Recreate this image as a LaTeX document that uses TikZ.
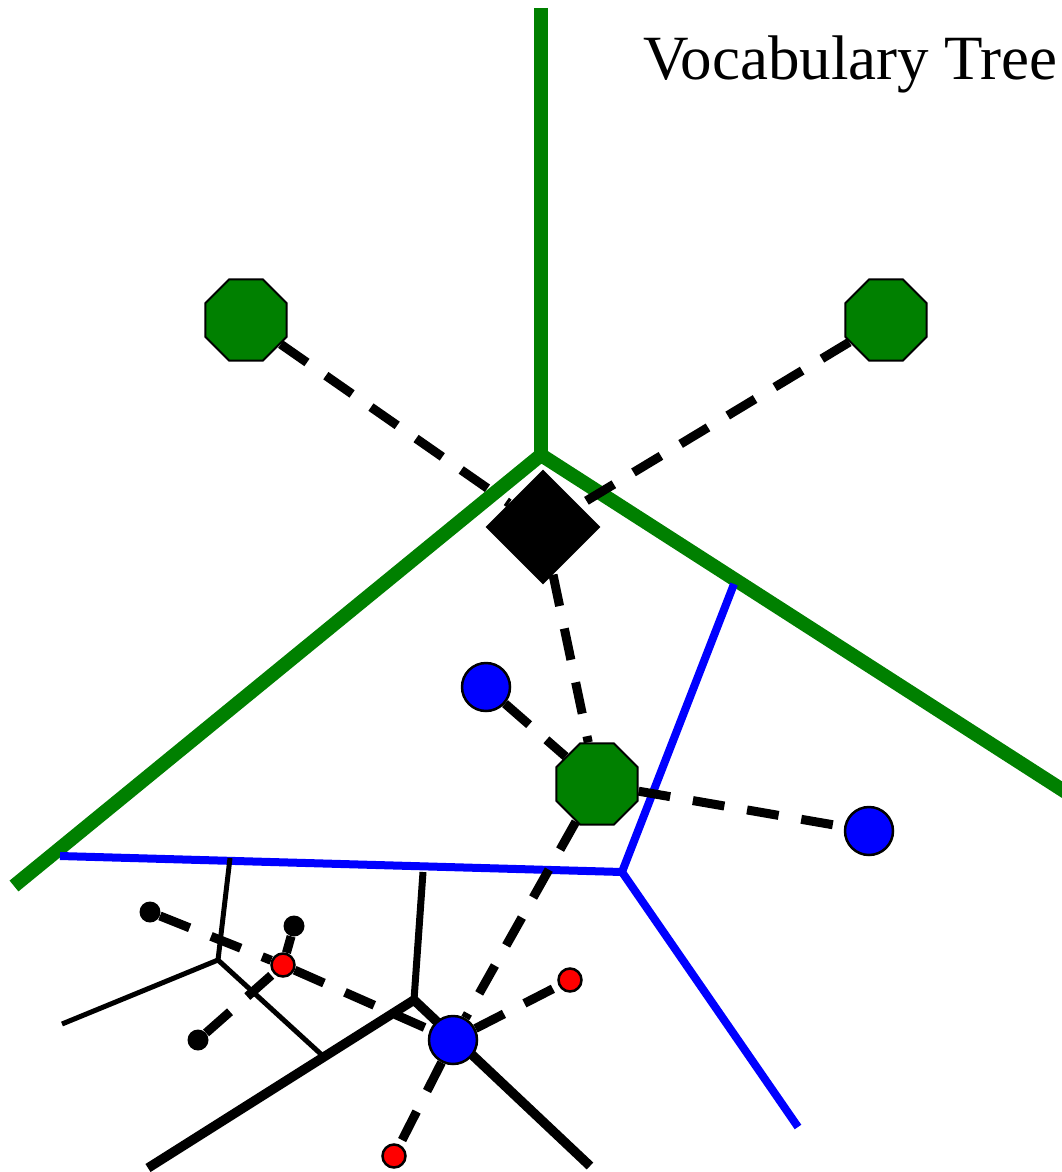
\documentclass[tikz,border=0pt]{standalone}
\usepackage{fontspec}
\setmainfont{Liberation Serif}
\usetikzlibrary{shapes.geometric}
\definecolor{vtgreen}{RGB}{0,128,0}
\definecolor{vtblue}{RGB}{0,0,255}
\definecolor{vtred}{RGB}{255,0,0}
\pgfdeclarelayer{bg}
\pgfsetlayers{bg,main}
\tikzset{
  octa/.style={regular polygon, regular polygon sides=8, minimum size=88pt, inner sep=0pt, fill=vtgreen, draw=black, line width=2pt},
  bigdot/.style={circle, minimum size=48pt, inner sep=0pt, fill=vtblue, draw=black, line width=2.5pt},
  reddot/.style={circle, minimum size=23pt, inner sep=0pt, fill=vtred, draw=black, line width=2.5pt},
  blackdot/.style={circle, minimum size=21pt, inner sep=0pt, fill=black},
  greenline/.style={draw=vtgreen, line width=14pt},
  blueline/.style={draw=vtblue, line width=8pt},
  dashlink/.style={draw=black, line width=9pt, dash pattern=on 32pt off 23pt},
}
\begin{document}
\begin{tikzpicture}[x=1pt,y=-1pt]
\useasboundingbox (0,0) rectangle (1062,1172);
\clip (0,0) rectangle (1062,1172);
% nodes
\node[octa] (oL) at (246,320) {};
\node[octa] (oR) at (886,320) {};
\node[octa] (oC) at (597,784) {};
\node[diamond, fill=black, minimum width=115pt, minimum height=115pt, inner sep=0pt] (dia) at (543,527) {};
\node[bigdot] (b1) at (486,687) {};
\node[bigdot] (b2) at (869,831) {};
\node[bigdot] (b3) at (453,1040) {};
\node[reddot] (r1) at (283,965) {};
\node[reddot] (r2) at (570,980) {};
\node[reddot] (r3) at (394,1156) {};
\node[blackdot] (k1) at (150,912) {};
\node[blackdot] (k2) at (294,926) {};
\node[blackdot] (k3) at (198,1040) {};
\node[anchor=base east, inner sep=0pt, font=\fontsize{63}{72}\selectfont] (title) at (1058,80) {Vocabulary Tree};
% junction coordinates
\coordinate (g0) at (541,455);
\coordinate (gT) at (541,8);
\coordinate (gL) at (14,886);
\coordinate (gR) at (1075,798);
\coordinate (u0) at (622,872);
\coordinate (uL) at (60,856);
\coordinate (uT) at (734,584);
\coordinate (uB) at (798,1127);
\coordinate (j1) at (218,960);
\coordinate (j1T) at (230,858);
\coordinate (j1L) at (62,1024);
\coordinate (j1B) at (323,1056);
\coordinate (j2) at (414,1000);
\coordinate (j2T) at (423,872);
\coordinate (j2L) at (148,1168);
\coordinate (j2R) at (590,1166);
\begin{pgfonlayer}{bg}
\draw[greenline] (gT) -- (g0);
\draw[greenline] (gL) -- (g0) -- (gR);
\draw[blueline] (uL) -- (u0) -- (uT);
\draw[blueline] (u0) -- (uB);
\draw[line width=5pt] (j1T) -- (j1);
\draw[line width=5pt] (j1L) -- (j1) -- (j1B);
\draw[line width=7pt] (j2T) -- (j2);
\draw[line width=9.5pt] (j2L) -- (j2) -- (j2R);
\draw[dashlink] (oL) -- (dia);
\draw[dashlink] (oR) -- (dia);
\draw[dashlink] (dia) -- (oC);
\draw[dashlink] (b1) -- (oC);
\draw[dashlink] (oC) -- (b2);
\draw[dashlink] (oC) -- (b3);
\draw[dashlink] (k1) -- (r1);
\draw[dashlink] (r1) -- (b3);
\draw[dashlink] (k2) -- (r1);
\draw[dashlink] (k3) -- (r1);
\draw[dashlink] (b3) -- (r2);
\draw[dashlink] (b3) -- (r3);
\end{pgfonlayer}
\end{tikzpicture}
\end{document}
